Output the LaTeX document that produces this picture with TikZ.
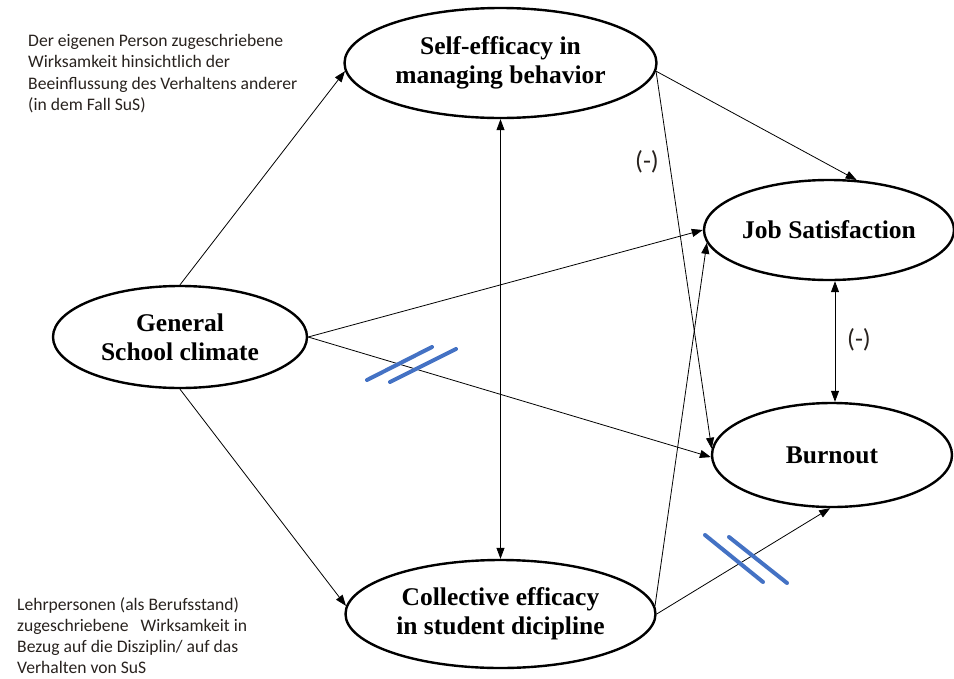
\documentclass[tikz,border=0pt]{standalone}
\usepackage{fontspec}
\setmainfont{Liberation Serif}
\newfontfamily\notefont{Carlito}
\usetikzlibrary{shapes.geometric,arrows.meta}
\definecolor{slashblue}{RGB}{68,114,196}
\definecolor{notecol}{RGB}{40,34,30}
\begin{document}
\begin{tikzpicture}[x=1pt,y=-1pt,
  construct/.style={ellipse,draw,line width=2.4pt,inner sep=0pt,align=center,
    font=\fontsize{25.5}{29}\selectfont\bfseries},
  arr/.style={line width=0.8pt,-{Triangle[length=11pt,width=8pt]}},
  biarr/.style={line width=0.8pt,{Triangle[length=11pt,width=8pt]}-{Triangle[length=11pt,width=8pt]}},
  note/.style={anchor=north west,inner sep=0pt,align=left,text=notecol,
    font=\notefont\fontsize{17.6}{21.3}\selectfont},
  sign/.style={text=notecol,inner sep=0pt,font=\notefont\fontsize{26}{28}\selectfont},
  slash/.style={draw=slashblue,line width=4pt,line cap=round}]
\useasboundingbox (0,0) rectangle (954,678);

% constructs
\node[construct,minimum width=312pt,minimum height=110pt] (self) at (500.5,63) {Self-efficacy in\\managing behavior};
\node[construct,minimum width=254pt,minimum height=102pt] (gen) at (180,337) {General\\School climate};
\node[construct,minimum width=250pt,minimum height=100pt] (js) at (829,230) {Job Satisfaction};
\node[construct,minimum width=240pt,minimum height=104pt] (bo) at (832,455) {Burnout};
\node[construct,minimum width=310pt,minimum height=108pt] (coll) at (500.5,614) {Collective efficacy\\in student dicipline};

% connectors
\draw[arr] (gen.north) -- (self.183);
\draw[arr] (gen.east) -- (js.180);
\draw[arr] (gen.east) -- (bo.181);
\draw[arr] (gen.south) -- (coll.177);
\draw[biarr] (self.south) -- (coll.north);
\draw[arr] (self.-3) -- (js.61);
\draw[arr] (self.-3) -- (bo.177);
\draw[arr] (coll.3) -- (js.186);
\draw[arr] (coll.0) -- (bo.-92);
\draw[biarr] ([xshift=6pt]js.south) -- ([xshift=3pt]bo.north);

% signs
\node[sign] (s1) at (647,162) {(-)};
\node[sign] (s2) at (859,340) {(-)};

% notes
\node[note] (n1) at (28,34) {Der eigenen Person zugeschriebene\\Wirksamkeit hinsichtlich der\\Beeinflussung des Verhaltens anderer\\(in dem Fall SuS)};
\node[note] (n2) at (17,597) {Lehrpersonen (als Berufsstand)\\zugeschriebene\ \ \ Wirksamkeit in\\Bezug auf die Disziplin/ auf das\\Verhalten von SuS};

% blue double slashes
\draw[slash] (367,380) -- (432,347);
\draw[slash] (390,382) -- (456,349);
\draw[slash] (705,535) -- (763,582);
\draw[slash] (729,537) -- (787,583);
\end{tikzpicture}
\end{document}
